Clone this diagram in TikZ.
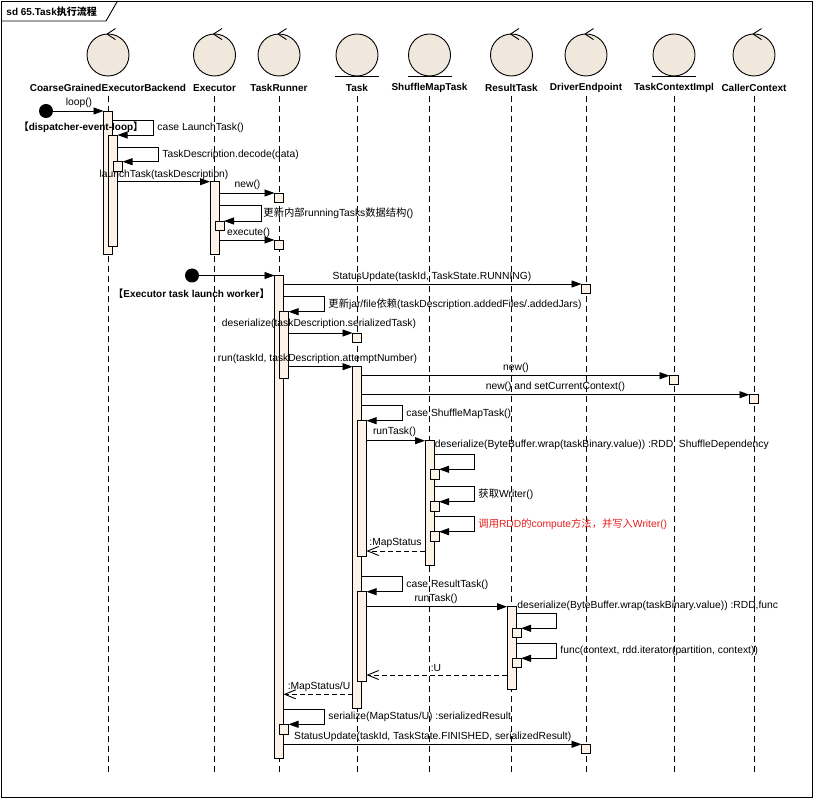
\documentclass[tikz,border=0pt]{standalone}
\usepackage{fontspec}
\setmainfont{Liberation Sans}
\newfontfamily\cjk{Noto Sans CJK SC}
\usetikzlibrary{arrows.meta}
\definecolor{barfill}{RGB}{252,242,232}
\definecolor{circfill}{RGB}{240,232,221}
\definecolor{redtxt}{RGB}{232,30,30}
\newcommand\abar[4]{\node[actbar, minimum height={(#4-#3)*1pt}, anchor=north] (#1) at (#2,#3) {};}
\begin{document}
\begin{tikzpicture}[x=1pt,y=-1pt, line width=0.9pt,
  lifeline/.style={dash pattern=on 6pt off 4pt, line width=0.9pt},
  actbar/.style={draw, fill=barfill, inner sep=0pt, outer sep=0pt, minimum width=9pt},
  msg/.style={-{Triangle[length=10pt,width=7pt]}},
  retmsg/.style={dash pattern=on 5pt off 3pt, -{Straight Barb[length=11pt,width=9pt]}},
  lbl/.style={font=\fontsize{10.3}{12}\selectfont, inner sep=0pt},
  lblw/.style={lbl, anchor=west},
  nm/.style={font=\bfseries\fontsize{10}{12}\selectfont, inner sep=0pt},
  obj/.style={circle, draw, fill=circfill, minimum size=42pt, inner sep=0pt},
  startdot/.style={circle, fill=black, minimum size=14pt, inner sep=0pt},
]
\path[use as bounding box] (0,0) rectangle (814,799);
% frame
\draw (1,1) rectangle (812,797);
\draw (1,21) -- (106,21) -- (117.5,1);
\node[nm, anchor=west] (title) at (6,11.5) {sd 65.Task{\cjk 执行流程}};

% lifelines
\foreach \n/\x/\t in {cgeb/108/CoarseGrainedExecutorBackend, exe/214.5/Executor, trun/279/TaskRunner,
  task/357/Task, smt/429.5/ShuffleMapTask, rtask/511.5/ResultTask, drv/586/DriverEndpoint,
  tci/674/TaskContextImpl, cctx/754/CallerContext}{
  \node[obj] (\n) at (\x,55) {};
  \node[nm] (\n-l) at (\x,88) {\t};
  \draw[lifeline] (\x,96) -- (\x,772);
}
% control marks
\foreach \n in {cgeb, exe, trun, rtask, drv, cctx}{
  \draw ([xshift=-1pt,yshift=-0.5pt]\n.north) -- ++(8.5,-5.5);
  \draw ([xshift=-1pt,yshift=-0.5pt]\n.north) -- ++(8.5,5.5);
}
% entity marks
\foreach \n in {task, smt, tci}{
  \draw ([xshift=-22pt]\n.south) -- ([xshift=22pt]\n.south);
}

% activation bars
\abar{cg1}{108}{111}{254}
\abar{cg2}{113}{135}{246}
\abar{cg3}{118}{161.7}{171}
\abar{ex1}{214.5}{181.7}{254}
\abar{ex2}{219.5}{221}{230}
\abar{tr1}{279}{193}{202}
\abar{tr2}{279}{240}{249}
\abar{tr3}{279}{275.5}{758.3}
\abar{tr4}{284}{311.7}{378}
\abar{tr5}{284}{724.3}{734}
\abar{de1}{586}{284}{293.3}
\abar{de2}{586}{744.3}{753.3}
\abar{tk1}{357}{333}{342}
\abar{tk2}{357}{366.7}{708.3}
\abar{tk3}{362}{420.7}{556.7}
\abar{tk4}{362}{591.7}{681}
\abar{tc1}{674}{375.7}{384.5}
\abar{cc1}{754}{394.7}{403.5}
\abar{sm1}{429.5}{440.7}{565}
\abar{sm2}{434.5}{469.3}{479}
\abar{sm3}{434.5}{501.7}{511}
\abar{sm4}{434.5}{531.7}{541}
\abar{rt1}{511.5}{606.7}{689}
\abar{rt2}{516.5}{628.3}{637.7}
\abar{rt3}{516.5}{658.3}{667.7}

% start dots
\node[startdot] (d1) at (46,111) {};
\node[startdot] (d2) at (192,275.5) {};

% messages
\draw[msg] (d1) -- (cg1.north west);
\draw[msg] (cg1.east |- 0,120.7) -- (153.3,120.7) |- (cg2.north east);
\draw[msg] (cg2.east |- 0,147.7) -- (158.3,147.7) |- (cg3.north east);
\draw[msg] (cg2.east |- ex1.north) -- (ex1.north west);
\draw[msg] (ex1.east |- tr1.north) -- (tr1.north west);
\draw[msg] (ex1.east |- 0,205) -- (261,205) |- (ex2.north east);
\draw[msg] (ex1.east |- tr2.north) -- (tr2.north west);
\draw[msg] (d2) -- (tr3.north west);
\draw[msg] (tr3.east |- de1.north) -- (de1.north west);
\draw[msg] (tr3.east |- 0,296.5) -- (324,296.5) |- (tr4.north east);
\draw[msg] (tr4.east |- tk1.north) -- (tk1.north west);
\draw[msg] (tr4.east |- tk2.north) -- (tk2.north west);
\draw[msg] (tk2.east |- tc1.north) -- (tc1.north west);
\draw[msg] (tk2.east |- cc1.north) -- (cc1.north west);
\draw[msg] (tk2.east |- 0,405) -- (402.7,405) |- (tk3.north east);
\draw[msg] (tk3.east |- sm1.north) -- (sm1.north west);
\draw[msg] (sm1.east |- 0,454.3) -- (474.3,454.3) |- (sm2.north east);
\draw[msg] (sm1.east |- 0,486.7) -- (474.3,486.7) |- (sm3.north east);
\draw[msg] (sm1.east |- 0,516.7) -- (474.3,516.7) |- (sm4.north east);
\draw[retmsg] (sm1.west |- 0,551) -- (tk3.east |- 0,551);
\draw[msg] (tk2.east |- 0,576) -- (402,576) |- (tk4.north east);
\draw[msg] (tk4.east |- rt1.north) -- (rt1.north west);
\draw[msg] (rt1.east |- 0,613.3) -- (556.6,613.3) |- (rt2.north east);
\draw[msg] (rt1.east |- 0,643.3) -- (556.6,643.3) |- (rt3.north east);
\draw[retmsg] (rt1.west |- 0,675) -- (tk4.east |- 0,675);
\draw[retmsg] (tk2.west |- 0,694.3) -- (tr3.east |- 0,694.3);
\draw[msg] (tr3.east |- 0,709.3) -- (324.5,709.3) |- (tr5.north east);
\draw[msg] (tr3.east |- de2.north) -- (de2.north west);

% labels
\node[lbl] (m1) at (79,103) {loop()};
\node[nm] (g1) at (81,127.5) {{\cjk 【}dispatcher-event-loop{\cjk 】}};
\node[lblw] (m2) at (157,128) {case LaunchTask()};
\node[lblw] (m3) at (162,155) {TaskDescription.decode(data)};
\node[lbl] (m4) at (164,175) {launchTask(taskDescription)};
\node[lbl] (m5) at (247.5,185) {new()};
\node[lblw] (m6) at (263,213) {{\cjk 更新内部}runningTasks{\cjk 数据结构}()};
\node[lbl] (m7) at (248.5,233) {execute()};
\node[nm] (g2) at (191.5,293.5) {{\cjk 【}Executor task launch worker{\cjk 】}};
\node[lbl] (m8) at (432,277) {StatusUpdate(taskId, TaskState.RUNNING)};
\node[lblw] (m9) at (328,304) {{\cjk 更新}jar/file{\cjk 依赖}(taskDescription.addedFiles/.addedJars)};
\node[lbl] (m10) at (319,324) {deserialize(taskDescription.serializedTask)};
\node[lbl] (m11) at (317.5,358.5) {run(taskId, taskDescription.attemptNumber)};
\node[lbl] (m12) at (516,367.7) {new()};
\node[lbl] (m13) at (555.4,386.7) {new() and setCurrentContext()};
\node[lblw] (m14) at (406,413.5) {case ShuffleMapTask()};
\node[lbl] (m15) at (394.5,432) {runTask()};
\node[lblw] (m16) at (434.5,445) {deserialize(ByteBuffer.wrap(taskBinary.value)) :RDD, ShuffleDependency};
\node[lblw] (m17) at (478,494.5) {{\cjk 获取}Writer()};
\node[lblw, text=redtxt] (m18) at (478,524.3) {{\cjk 调用}RDD{\cjk 的}compute{\cjk 方法，并写入}Writer()};
\node[lbl] (m19) at (395.5,543.3) {:MapStatus};
\node[lblw] (m20) at (406,584.5) {case ResultTask()};
\node[lbl] (m21) at (436,598.5) {runTask()};
\node[lblw] (m22) at (517,605.7) {deserialize(ByteBuffer.wrap(taskBinary.value)) :RDD,func};
\node[lblw] (m23) at (560,651) {func(context, rdd.iterator(partition, context))};
\node[lbl] (m24) at (436,667.7) {:U};
\node[lbl] (m25) at (319,686.7) {:MapStatus/U};
\node[lblw] (m26) at (328,716.7) {serialize(MapStatus/U) :serializedResult};
\node[lbl] (m27) at (432.7,736.7) {StatusUpdate(taskId, TaskState.FINISHED, serializedResult)};
\end{tikzpicture}
\end{document}
